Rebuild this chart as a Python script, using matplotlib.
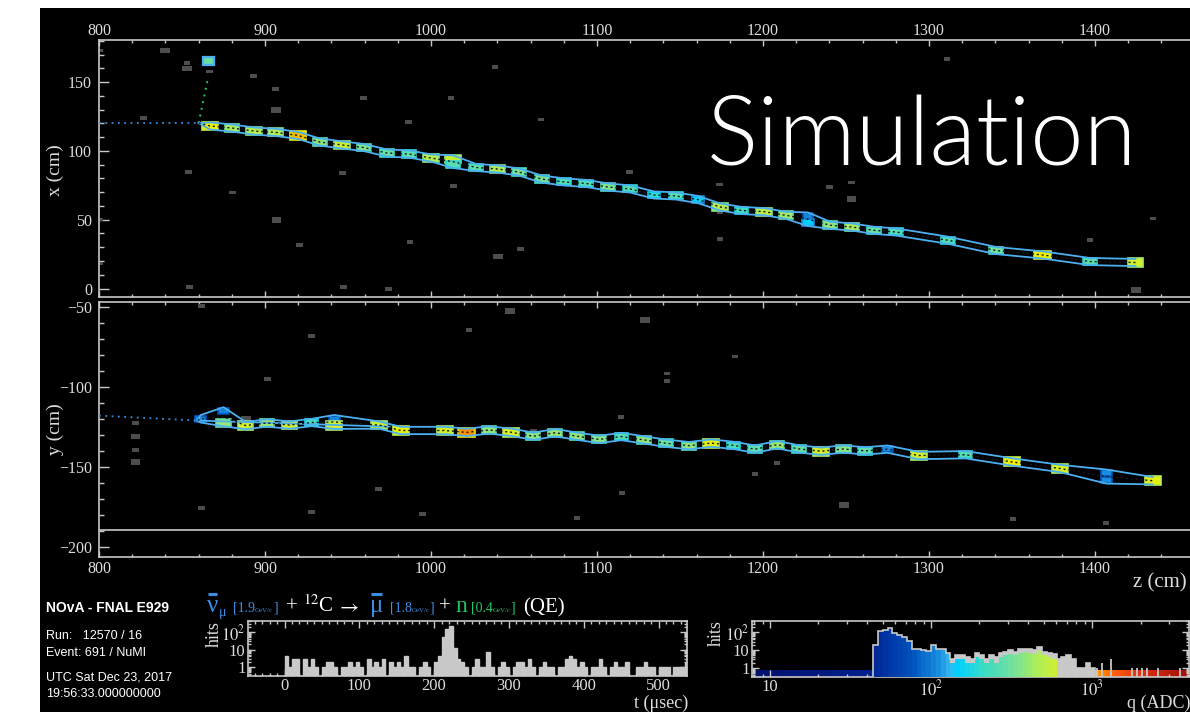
import numpy as np
import matplotlib
matplotlib.use("Agg")
import matplotlib.pyplot as plt
from matplotlib.patches import Rectangle
from matplotlib.lines import Line2D
from matplotlib.colors import LinearSegmentedColormap
from matplotlib.ticker import MultipleLocator, FixedLocator, FixedFormatter, LogLocator, NullFormatter

# ---------------- data ----------------
# X-view (x vs z) track cells
xz_cell_z = [866.9, 880.1, 893.4, 906.6, 919.9, 933.1, 946.4, 959.6, 973.5, 986.7,
             1000.0, 1013.3, 1013.3, 1027.1, 1040.1, 1053.0, 1066.6, 1080.1, 1093.4, 1106.6,
             1119.9, 1134.3, 1147.6, 1160.8, 1174.1, 1187.3, 1200.6, 1213.9, 1227.1, 1227.1,
             1240.4, 1253.6, 1266.9, 1280.1, 1311.4, 1340.4, 1368.4, 1397.0, 1424.4]
xz_cell_x = [118.2, 116.7, 114.5, 113.5, 111.3, 106.5, 104.4, 102.5, 98.5, 97.8,
             94.9, 94.2, 90.2, 88.0, 86.9, 84.7, 79.6, 77.5, 76.4, 73.8,
             72.4, 68.0, 67.3, 64.7, 59.3, 56.7, 55.9, 53.2, 52.7, 48.0,
             46.0, 44.7, 42.3, 41.1, 35.1, 27.6, 24.4, 19.6, 18.9]
xz_cell_q = [760, 450, 500, 480, 950, 380, 560, 350, 300, 280,
             500, 560, 260, 280, 480, 330, 330, 250, 250, 350,
             260, 200, 260, 150, 500, 230, 520, 420, 105, 145,
             380, 450, 300, 250, 260, 320, 760, 270, 620]

# Y-view (y vs z) track cells
yz_cell_z = [861.1, 875.0, 875.0, 888.3, 901.3, 914.8, 928.1, 941.6, 941.6, 968.7,
             981.9, 1008.4, 1021.5, 1034.8, 1048.2, 1061.6, 1074.8, 1088.0, 1101.3, 1114.6,
             1128.3, 1141.5, 1155.5, 1168.7, 1182.0, 1195.2, 1208.5, 1221.9, 1235.1, 1248.5,
             1261.6, 1275.0, 1293.8, 1322.0, 1349.9, 1378.9, 1407.0, 1407.0, 1434.9]
yz_cell_y = [-119.9, -114.9, -122.3, -124.1, -122.5, -123.8, -122.2, -119.8, -123.9, -123.8,
             -127.2, -127.2, -128.4, -126.9, -128.3, -130.8, -128.6, -130.8, -132.8, -131.0,
             -133.1, -135.2, -136.7, -135.1, -136.5, -138.9, -136.1, -138.8, -140.2, -138.8,
             -140.0, -138.9, -142.9, -142.4, -146.9, -151.0, -154.0, -158.2, -158.7]
yz_cell_q = [110, 105, 400, 600, 420, 620, 230, 105, 600, 580,
             720, 620, 1100, 380, 640, 360, 400, 380, 360, 260,
             380, 300, 380, 680, 240, 280, 400, 300, 620, 360,
             280, 110, 600, 260, 760, 640, 110, 110, 680]

vertex_z_x, vertex_x = 860.0, 120.3
vertex_z_y, vertex_y = 859.5, -121.0
beam_x_at800, beam_y_at800 = 120.3, -117.9
neutron_cell = (866.0, 165.5, 300)
neutron_line_end = (865.5, 152.0)
prong_z = [859.5, 975.0]
prong_y = [-121.0, -124.8]
veto_line_y = -189.5

# noise hits: z, position, size class (0 small, 1 large)
noise_xz_z = [800.5, 839.8, 853.0, 853.0, 866.4, 893.0, 906.4, 906.6, 826.9, 959.2,
              986.5, 853.8, 946.6, 880.5, 907.0, 987.3, 920.7, 800.6, 800.6, 854.6,
              947.4, 974.5, 1012.0, 1066.3, 1119.5, 1013.5, 1173.7, 1174.1, 1174.1, 1040.5,
              1053.8, 1240.2, 1253.4, 1253.4, 1397.0, 1038.6, 1310.8, 1424.7, 1435.0]
noise_xz_x = [173.0, 173.1, 164.2, 160.1, 157.7, 154.3, 145.3, 129.8, 124.0, 138.3,
              121.1, 84.7, 84.2, 69.7, 49.8, 34.0, 31.6, 50.3, 18.3, 1.3,
              0.9, -0.6, 138.5, 123.0, 84.5, 74.5, 75.5, 55.4, 35.8, 23.4,
              28.9, 74.0, 77.0, 65.1, 35.5, 161.0, 167.1, -1.1, 51.0]
noise_xz_s = [0, 1, 0, 1, 0, 0, 0, 1, 0, 0,
              0, 0, 0, 0, 1, 0, 0, 0, 0, 0,
              0, 0, 0, 0, 0, 0, 0, 0, 0, 1,
              0, 0, 0, 1, 0, 0, 0, 1, 0]
noise_yz_z = [861.6, 928.1, 901.6, 821.9, 821.9, 821.9, 821.9, 888.4, 861.6, 928.1,
              968.4, 994.9, 1061.6, 1114.5, 1047.6, 1128.9, 1023.0, 1142.2, 1142.2, 1183.1,
              1115.0, 1088.0, 1248.8, 1350.6, 1406.6, 1208.4, 1195.2]
noise_yz_y = [-49.0, -67.8, -94.9, -122.7, -131.1, -139.2, -146.9, -119.6, -175.6, -178.1,
              -163.7, -179.5, -127.2, -118.9, -52.4, -57.9, -64.5, -91.5, -96.3, -80.8,
              -166.6, -182.3, -173.9, -182.7, -185.2, -147.7, -154.4]
noise_yz_s = [0, 0, 0, 0, 1, 0, 1, 1, 0, 0,
              0, 0, 0, 0, 1, 1, 0, 0, 0, 0,
              0, 0, 1, 0, 0, 0, 0]

# timing histogram (5 usec bins from 0 to 540 usec)
t_bin_width = 5.0
t_counts = [4, 1, 3, 3, 0, 3, 1, 3, 1, 0,
            1, 2, 2, 1, 0, 1, 1, 2, 1, 2,
            1, 0, 3, 1, 2, 1, 3, 0, 2, 1,
            2, 1, 4, 1, 1, 0, 1, 2, 1, 0,
            2, 4, 50, 150, 220, 12, 3, 2, 1, 0,
            1, 3, 1, 1, 7, 1, 0, 1, 2, 1,
            0, 1, 2, 2, 1, 3, 1, 0, 1, 2,
            1, 1, 0, 1, 1, 3, 4, 3, 1, 2,
            1, 0, 1, 1, 3, 1, 0, 1, 2, 1,
            1, 2, 0, 0, 1, 1, 2, 1, 1, 0,
            1, 1, 1, 0, 1, 1, 1, 2]

# charge histogram (log bins of 0.03 decade starting at 10^1.64 ADC)
q_log_start, q_log_step = 1.64, 0.03
q_counts_all = [20, 114, 140, 175, 85, 67, 52, 33, 12, 12,
                10, 9, 19, 12, 11, 7, 3, 5, 5, 4,
                3, 7, 5, 3, 5, 4, 7, 8, 10, 8,
                11, 12, 11, 10, 14, 8, 7, 6, 3, 4,
                5, 3, 1, 1, 2, 1]
q_counts_col = [20, 114, 140, 175, 85, 67, 52, 33, 12, 12,
                10, 9, 19, 12, 11, 7, 2, 3, 3, 2,
                2, 4, 3, 2, 3, 2, 4, 5, 6, 5,
                7, 8, 7, 6, 9, 5, 4, 3]
q_spike_q = [1074, 1153, 1312, 1766, 1897, 2037, 2188, 2583, 3524]
q_spike_n = [1, 2, 3, 1, 1, 1, 1, 1, 1]

t_ticks = [0, 100, 200, 300, 400, 500]
q_ticks = [10, 100, 1000]
q_tick_labels = ['10', r'$10^{2}$', r'$10^{3}$']
h_ticks = [1, 10, 100]
h_tick_labels = ['1', '10', r'$10^{2}$']

info_lines = ["Run:   12570 / 16", "Event: 691 / NuMI", "UTC Sat Dec 23, 2017", "19:56:33.000000000"]

# ---------------- style ----------------
W, H = 1190, 722
SERIF = ['Liberation Serif', 'DejaVu Serif']
SANS = ['Liberation Sans', 'DejaVu Sans']
plt.rcParams['font.family'] = SERIF
plt.rcParams['mathtext.fontset'] = 'stix'
plt.rcParams['axes.unicode_minus'] = True
FRAME = '#c8c8c8'
TXT = '#dcdcdc'
TRK = '#4cb0f0'
NOISE = '#4d4d4d'
BLUE = '#3c8ce0'
GREEN = '#22c864'

LQ0, LQ1 = 0.9, 3.6
anchors = [(0.9, '#00106e'), (1.6, '#001f8c'), (1.75, '#0038a8'), (1.9, '#0058c0'),
           (2.05, '#1a8fe0'), (2.12, '#3ab8f0'), (2.16, '#00d0ff'), (2.25, '#20d8e0'),
           (2.35, '#40dcc0'), (2.5, '#70e0a0'), (2.65, '#a8ec60'), (2.78, '#d0f030'),
           (2.88, '#f0f000'), (2.98, '#f0b800'), (3.05, '#ff9000'), (3.15, '#ff5a10'),
           (3.3, '#e03010'), (3.6, '#a01008')]
cmap = LinearSegmentedColormap.from_list('nova', [((a - LQ0) / (LQ1 - LQ0), c) for a, c in anchors])


def qcol(q):
    return cmap(np.clip((np.log10(q) - LQ0) / (LQ1 - LQ0), 0, 1))


def fx(px):
    return px / W


def fy(py):
    return 1 - py / H


def box(l, t, r, b):
    return [fx(l), fy(b), (r - l) / W, (b - t) / H]


fig = plt.figure(figsize=(W / 100, H / 100), dpi=100)
fig.patch.set_facecolor('white')
fig.add_artist(Rectangle((fx(40), fy(712)), (1190 - 40) / W, (712 - 8) / H,
                         transform=fig.transFigure, fc='black', ec='none', zorder=-5))

Z0, Z1 = 800, 1470
PXCM = 1.66


def zpx(z):
    return 99 + (z - Z0) * PXCM


def style_view(ax):
    ax.set_facecolor('black')
    for s in ['left', 'top', 'bottom']:
        ax.spines[s].set_color(FRAME)
        ax.spines[s].set_linewidth(1.2)
    ax.spines['right'].set_visible(False)
    ax.xaxis.set_major_locator(MultipleLocator(100))
    ax.xaxis.set_minor_locator(MultipleLocator(20))
    ax.yaxis.set_major_locator(MultipleLocator(50))
    ax.yaxis.set_minor_locator(MultipleLocator(10))
    ax.tick_params(which='both', direction='in', color=FRAME, labelcolor=TXT, labelsize=11.5)
    ax.tick_params(axis='y', which='major', length=7, width=1, pad=5, right=False)
    ax.tick_params(axis='y', which='minor', length=3.5, width=1, right=False)
    ax.tick_params(axis='x', which='major', length=4, width=1, top=True, bottom=True)
    ax.tick_params(axis='x', which='minor', length=2.5, width=1, top=True, bottom=True)


def draw_cells(ax, zs, vs, qs, base_h):
    for z, v, q in zip(zs, vs, qs):
        s = 0.88 + 0.5 * np.clip((np.log10(q) - 2.0) / 1.0, 0, 1)
        w, h = 7.4 * s, base_h * s
        ax.add_patch(Rectangle((z - w / 2, v - h / 2), w, h, fc=qcol(q), ec=qcol(q * 0.72),
                               lw=1.2, zorder=3))


def draw_band(ax, zs, vs, vz, vv, hw):
    planes = sorted(set(zs))
    hi = [max(v for z, v in zip(zs, vs) if z == p) + hw for p in planes]
    lo = [min(v for z, v in zip(zs, vs) if z == p) - hw for p in planes]
    mid = [np.mean([v for z, v in zip(zs, vs) if z == p]) for p in planes]
    ax.plot([vz] + planes, [vv] + hi, color=TRK, lw=1.3, zorder=4, solid_joinstyle='round')
    ax.plot([vz] + planes, [vv] + lo, color=TRK, lw=1.3, zorder=4, solid_joinstyle='round')
    ax.plot([vz] + planes, [vv] + mid, color='#1a1a1a', lw=1.0, ls=(0, (1.5, 2)), zorder=5)


def draw_noise(ax, zs, vs, ss, base_h):
    for z, v, s in zip(zs, vs, ss):
        f = 0.8 if s else 0.55
        w, h = 7.2 * f, base_h * f * (1.0 if s else 1.05)
        ax.add_patch(Rectangle((z - w / 2, v - h / 2), w, h, fc=NOISE, ec='none', zorder=2))


# ---- top: x view ----
ax1 = fig.add_axes(box(99, 40, zpx(Z1), 297))
ax1.set_xlim(Z0, Z1)
ax1.set_ylim(-6.18, 180.7)
style_view(ax1)
ax1.tick_params(axis='x', which='both', labeltop=True, labelbottom=False, pad=1)
draw_noise(ax1, noise_xz_z, noise_xz_x, noise_xz_s, 4.6)
ax1.plot([Z0, vertex_z_x], [beam_x_at800, vertex_x], color=BLUE, lw=1.3, ls=(0, (1, 2.5)), zorder=4)
ax1.plot([vertex_z_x, neutron_line_end[0]], [vertex_x, neutron_line_end[1]], color=GREEN,
         lw=1.4, ls=(0, (1, 2.5)), zorder=4)
draw_cells(ax1, xz_cell_z, xz_cell_x, xz_cell_q, 4.7)
nz, nx, nq = neutron_cell
ax1.add_patch(Rectangle((nz - 3.4, nx - 2.9), 6.8, 5.8, fc=qcol(nq), ec=TRK, lw=1.6, zorder=3))
draw_band(ax1, xz_cell_z, xz_cell_x, vertex_z_x, vertex_x, 2.6)

# ---- bottom: y view ----
ax2 = fig.add_axes(box(99, 302.3, zpx(Z1), 556.7))
ax2.set_xlim(Z0, Z1)
ax2.set_ylim(-206.3, -46.87)
style_view(ax2)
ax2.tick_params(axis='x', which='both', labeltop=False, labelbottom=True, pad=3)
ax2.axhline(veto_line_y, color=FRAME, lw=1.2, zorder=1)
draw_noise(ax2, noise_yz_z, noise_yz_y, noise_yz_s, 4.2)
ax2.plot([Z0, vertex_z_y], [beam_y_at800, vertex_y], color=BLUE, lw=1.3, ls=(0, (1, 2.5)), zorder=4)
draw_cells(ax2, yz_cell_z, yz_cell_y, yz_cell_q, 4.3)
ax2.plot(prong_z, prong_y, color=TRK, lw=1.3, zorder=4)
draw_band(ax2, yz_cell_z, yz_cell_y, vertex_z_y, vertex_y, 2.3)

fig.text(fx(55), fy(170), 'x (cm)', rotation=90, ha='center', va='center', color=TXT, fontsize=14)
fig.text(fx(55), fy(429), 'y (cm)', rotation=90, ha='center', va='center', color=TXT, fontsize=14)
fig.text(fx(1187), fy(583), 'z (cm)', ha='right', va='center', color=TXT, fontsize=15)

# ---- Simulation label ----
fig.text(fx(707), fy(165), 'Simulation', ha='left', va='baseline', color='white',
         fontsize=69, family=['Lato', 'DejaVu Sans'], fontweight=300)


# ---- histogram axes ----
def style_hist(ax):
    ax.set_facecolor('black')
    for s in ax.spines.values():
        s.set_color(FRAME)
        s.set_linewidth(1.2)
    ax.set_yscale('log')
    ax.set_ylim(0.32, 424)
    ax.yaxis.set_major_locator(FixedLocator(h_ticks))
    ax.yaxis.set_major_formatter(FixedFormatter(h_tick_labels))
    ax.yaxis.set_minor_locator(LogLocator(base=10, subs=np.arange(2, 10)))
    ax.yaxis.set_minor_formatter(NullFormatter())
    ax.tick_params(which='both', direction='in', color=FRAME, labelcolor=TXT, labelsize=12,
                   top=True, right=True)
    ax.tick_params(which='major', length=5, width=1)
    ax.tick_params(which='minor', length=2.5, width=1)
    ax.tick_params(axis='y', pad=2)
    ax.tick_params(axis='x', pad=2)


axt = fig.add_axes(box(248.3, 621, 687.3, 675.7))
style_hist(axt)
axt.set_xlim(-48.4, 538.5)
axt.xaxis.set_major_locator(FixedLocator(t_ticks))
axt.xaxis.set_minor_locator(MultipleLocator(10))
tc = np.array(t_counts, dtype=float)
t_left = np.arange(len(tc)) * t_bin_width
m = tc > 0
axt.bar(t_left[m], tc[m] - 0.1, bottom=0.1, width=t_bin_width, align='edge', color='#c8c8c8',
        edgecolor='none', zorder=2)
axt.stairs(np.where(tc > 0, tc, 0.1), np.append(t_left, t_left[-1] + t_bin_width),
           color='#c8c8c8', lw=1.0, zorder=3)

axq = fig.add_axes(box(752.3, 621, 1189.3, 676.7))
style_hist(axq)
axq.set_xscale('log')
axq.set_xlim(10 ** 0.890, 10 ** 3.604)
axq.xaxis.set_major_locator(FixedLocator(q_ticks))
axq.xaxis.set_major_formatter(FixedFormatter(q_tick_labels))
axq.xaxis.set_minor_locator(LogLocator(base=10, subs=np.arange(2, 10)))
axq.xaxis.set_minor_formatter(NullFormatter())
# palette strip along the bottom
strip_edges = np.logspace(0.88, 3.62, 300)
strip_c = np.sqrt(strip_edges[:-1] * strip_edges[1:])
axq.bar(strip_edges[:-1], 0.72 - 0.1, bottom=0.1, width=np.diff(strip_edges), align='edge',
        color=[qcol(c) for c in strip_c], edgecolor='none', zorder=1)
qa = np.array(q_counts_all, dtype=float)
q_edges = 10 ** (q_log_start + q_log_step * np.arange(len(qa) + 1))
q_cent = np.sqrt(q_edges[:-1] * q_edges[1:])
axq.bar(q_edges[:-1], qa - 0.1, bottom=0.1, width=np.diff(q_edges), align='edge',
        color='#c8c8c8', edgecolor='none', zorder=2)
qcc = np.array(q_counts_col, dtype=float)
nc = len(qcc)
axq.bar(q_edges[:nc], qcc - 0.1, bottom=0.1, width=np.diff(q_edges)[:nc], align='edge',
        color=[qcol(c) for c in q_cent[:nc]], edgecolor='none', zorder=3)
axq.stairs(qa, q_edges, color='#c8c8c8', lw=1.2, zorder=4)
axq.vlines(q_spike_q, 0.1, q_spike_n, color='#c8c8c8', lw=1.3, zorder=4)

fig.text(fx(214), fy(634), 'hits', rotation=90, ha='center', va='center', color=TXT, fontsize=13)
fig.text(fx(716), fy(633), 'hits', rotation=90, ha='center', va='center', color=TXT, fontsize=13)
fig.text(fx(688), fy(703), 't (\u03bcsec)', ha='right', va='center', color=TXT, fontsize=13)
fig.text(fx(1127), fy(703), 'q (ADC)', ha='left', va='center', color=TXT, fontsize=13)

# ---- info text ----
fig.text(fx(46), fy(608), 'NOvA - FNAL E929', ha='left', va='center', color='white',
         fontsize=10, fontweight='bold', family=SANS)
for yy, line in zip([636, 653, 677, 694], info_lines):
    fig.text(fx(46), fy(yy), line, ha='left', va='center', color='white', fontsize=9, family=SANS)

# ---- reaction line ----
renderer = fig.canvas.get_renderer()
BASE = 612


def txt(x, s, size, col, base=BASE):
    t = fig.text(fx(x), fy(base), s, fontsize=size, color=col, ha='left', va='baseline')
    return t.get_window_extent(renderer)


def overbar(bb, col):
    x0, x1 = bb.x0 + 1, bb.x1 - 1
    yb = bb.y1 + 1.5
    fig.add_artist(Line2D([x0 / W, x1 / W], [yb / H, yb / H], transform=fig.transFigure,
                          color=col, lw=2.2, solid_capstyle='butt'))


def seq(x0, segs):
    x = x0
    for s, size, col in segs:
        x += txt(x, s, size, col).width
    return x


def bracket(x0, val, col):
    return seq(x0, [('[' + val, 10, col), ('GeV/c', 5, col), (']', 10, col)])


bb = txt(207, '\u03bd', 18, BLUE)
overbar(bb, BLUE)
txt(bb.x1 + 1, '\u03bc', 10, BLUE, base=BASE + 4)
bracket(233, '1.9', BLUE)
txt(286, '+', 15, 'white')
txt(303, r'$^{12}$C', 15, 'white')
txt(336, r'$\rightarrow$', 15, 'white')
bb = txt(370, '\u03bc', 18, BLUE)
overbar(bb, BLUE)
xe = bracket(390, '1.8', BLUE)
txt(max(438, xe + 4), '+', 15, 'white')
txt(455, 'n', 17, GREEN)
bracket(471, '0.4', GREEN)
txt(523, '(QE)', 15, 'white')

fig.savefig('out.png', dpi=100, facecolor='white')
